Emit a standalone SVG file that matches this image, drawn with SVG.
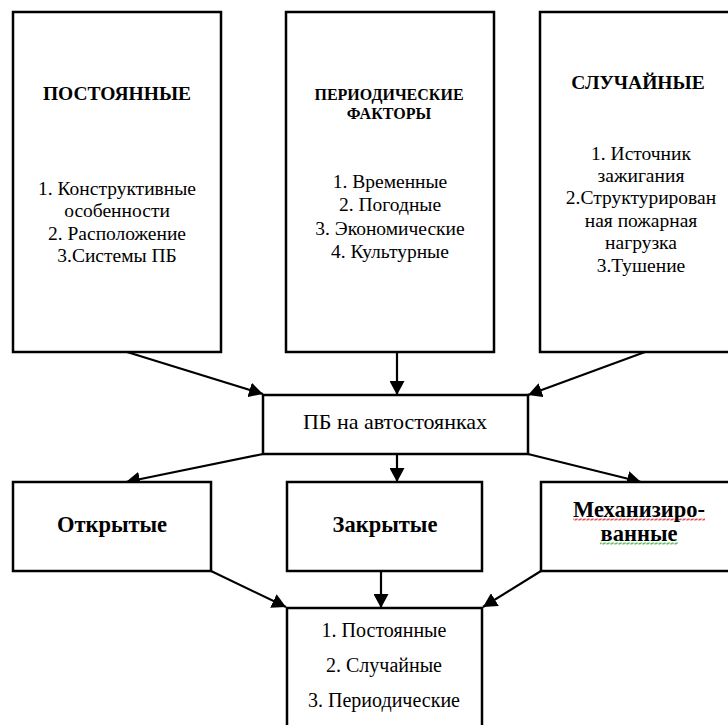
<svg xmlns="http://www.w3.org/2000/svg" width="728" height="725" viewBox="0 0 728 725">
<style>
.box{fill:#fff;stroke:#000;stroke-width:2.5}
.t{font-family:"Liberation Serif","Times New Roman",serif;fill:#000;text-anchor:middle}
.b{font-weight:bold}
.c line{stroke:#000;stroke-width:2.2;marker-end:url(#ah)}
</style>
<defs>
<marker id="ah" markerUnits="userSpaceOnUse" markerWidth="15" markerHeight="15" refX="14" refY="7.5" orient="auto">
<path d="M0,0 L14,7.5 L0,15 z" fill="#000"/>
</marker>
<pattern id="wr" width="4" height="3" patternUnits="userSpaceOnUse" x="0" y="518">
<path d="M0,2.5 L1,0.5 L3,2.5 L4,0.5" fill="none" stroke="#e02020" stroke-width="0.8"/>
</pattern>
<pattern id="wg" width="4" height="3" patternUnits="userSpaceOnUse" x="0" y="542">
<path d="M0,2.5 L1,0.5 L3,2.5 L4,0.5" fill="none" stroke="#30b030" stroke-width="0.8"/>
</pattern>
</defs>
<rect width="728" height="725" fill="#fff"/>
<g id="connectors" class="c">
<line x1="127" y1="352" x2="263" y2="394"/>
<line x1="397" y1="352" x2="397" y2="395"/>
<line x1="645" y1="352" x2="528" y2="395"/>
<line x1="263" y1="454" x2="126" y2="482"/>
<line x1="397" y1="454" x2="397" y2="482"/>
<line x1="528" y1="454" x2="641" y2="482"/>
<line x1="211" y1="571" x2="286" y2="607"/>
<line x1="381" y1="571" x2="381" y2="608"/>
<line x1="541" y1="571" x2="483" y2="607"/>
</g>
<g id="postoyannye">
<rect class="box" x="13" y="12" width="208" height="340"/>
<text class="t b" x="117" y="100" font-size="19.5">ПОСТОЯННЫЕ</text>
<text class="t" x="117" font-size="19.5"><tspan x="117" y="195">1. Конструктивные</tspan><tspan x="117" y="217">особенности</tspan><tspan x="117" y="240">2. Расположение</tspan><tspan x="117" y="262">3.Системы ПБ</tspan></text>
</g>
<g id="periodicheskie">
<rect class="box" x="286" y="12" width="208" height="340"/>
<text class="t b" font-size="16"><tspan x="389" y="100">ПЕРИОДИЧЕСКИЕ</tspan><tspan x="389" y="119">ФАКТОРЫ</tspan></text>
<text class="t" font-size="19.5"><tspan x="390" y="188">1. Временные</tspan><tspan x="390" y="211">2. Погодные</tspan><tspan x="390" y="235">3. Экономические</tspan><tspan x="390" y="258">4. Культурные</tspan></text>
</g>
<g id="sluchainye">
<rect class="box" x="540" y="12" width="200" height="340"/>
<text class="t b" x="638" y="89" font-size="19.5">СЛУЧАЙНЫЕ</text>
<text class="t" font-size="19.5"><tspan x="641" y="160">1. Источник</tspan><tspan x="641" y="182">зажигания</tspan><tspan x="641" y="204">2.Структурирован</tspan><tspan x="641" y="227">ная пожарная</tspan><tspan x="641" y="249">нагрузка</tspan><tspan x="641" y="272">3.Тушение</tspan></text>
</g>
<g id="pb">
<rect class="box" x="263" y="395" width="265" height="59"/>
<text class="t" x="395" y="429" font-size="22">ПБ на автостоянках</text>
</g>
<g id="otkrytye">
<rect class="box" x="13" y="482" width="198" height="89"/>
<text class="t b" x="112" y="532" font-size="22.5">Открытые</text>
</g>
<g id="zakrytye">
<rect class="box" x="287" y="482" width="195" height="89"/>
<text class="t b" x="385" y="532" font-size="22.5">Закрытые</text>
</g>
<g id="mekhanizirovannye">
<rect class="box" x="541" y="482" width="200" height="89"/>
<rect x="573" y="518" width="132" height="3" fill="url(#wr)"/>
<rect x="600" y="542" width="78" height="3" fill="url(#wg)"/>
<text class="t b" font-size="22.5"><tspan x="639" y="517">Механизиро-</tspan><tspan x="639" y="541">ванные</tspan></text>
</g>
<g id="itog">
<rect class="box" x="287" y="608" width="195" height="130"/>
<text class="t" font-size="20"><tspan x="384" y="637">1. Постоянные</tspan><tspan x="384" y="672">2. Случайные</tspan><tspan x="384" y="707">3. Периодические</tspan></text>
</g>
</svg>
